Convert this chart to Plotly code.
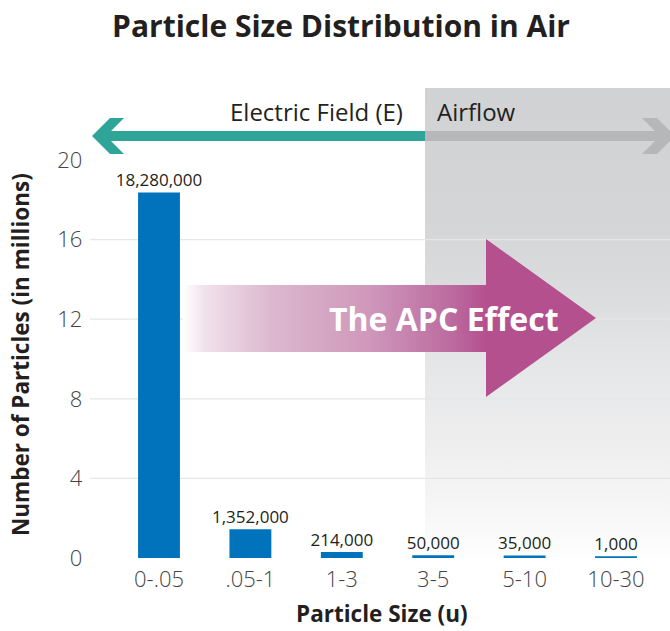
import plotly.graph_objects as go

# ---------------- data ----------------
categories = ["0-.05", ".05-1", "1-3", "3-5", "5-10", "10-30"]
particle_counts = [18280000, 1352000, 214000, 50000, 35000, 1000]
y_ticks = [0, 4, 8, 12, 16, 20]
grid_ticks = [4, 8, 12, 16]

title_text = "Particle Size Distribution in Air"
y_title = "Number of Particles (in millions)"
x_title = "Particle Size (u)"

# ---------------- geometry (pixels) ----------------
W, H = 670, 631
Y0_PX, YTOP_PX = 558, 160          # pixel rows of y=0 and y=20
X_LEFT, X_RIGHT = 113.3, 661.7     # bar plot area
Y_MAX = 20
UNIT = (Y0_PX - YTOP_PX) / Y_MAX


def vy(p):
    """pixel row -> value units of the decoration layer (aligned with bar axis)"""
    return (Y0_PX - p) / UNIT


def poly(pts):
    xs = [p[0] for p in pts] + [pts[0][0]]
    ys = [vy(p[1]) for p in pts] + [vy(pts[0][1])]
    return xs, ys


FONT = "Open Sans"
DARK = "#231f20"
GRAY_TXT = "#434446"
BAR_BLUE = "#0173bc"
TEAL = "#2fa59a"
ARROW_GRAY = "#b6b7b9"
MAGENTA = "#b5508f"

millions = [c / 1e6 for c in particle_counts]
labels = [f"{c:,}" for c in particle_counts]

fig = go.Figure()

# gray airflow region (vertical gradient)
gx, gy = poly([(425, 88), (670, 88), (670, 562), (425, 562)])
fig.add_trace(go.Scatter(
    x=gx, y=gy, mode="lines", line=dict(width=0), fill="toself",
    fillgradient=dict(type="vertical", start=vy(562), stop=vy(88),
                      colorscale=[[0, "#ffffff"], [0.1, "#f7f7f7"], [0.25, "#eeeeef"],
                                  [0.4, "#e6e7e8"], [0.55, "#dcdddf"], [0.72, "#d4d5d7"],
                                  [1, "#d1d2d4"]]),
    hoverinfo="skip", showlegend=False, xaxis="x", yaxis="y"))

# gridlines
gl_x, gl_y = [], []
for t in grid_ticks:
    gl_x += [90, 670, None]
    gl_y += [t, t, None]
fig.add_trace(go.Scatter(x=gl_x, y=gl_y, mode="lines",
                         line=dict(color="#e6e6e7", width=1.3),
                         hoverinfo="skip", showlegend=False, xaxis="x", yaxis="y"))

# teal arrow (electric field, pointing left)
tx, ty = poly([(92, 136), (110, 118), (124, 118), (111, 131), (425, 131),
               (425, 141), (111, 141), (124, 154), (110, 154)])
fig.add_trace(go.Scatter(x=tx, y=ty, mode="lines", line=dict(width=0), fill="toself",
                         fillcolor=TEAL, hoverinfo="skip", showlegend=False,
                         xaxis="x", yaxis="y"))

# gray arrow (airflow, pointing right)
ax_, ay_ = poly([(425, 131), (655, 131), (642, 118), (657, 118), (675, 136),
                 (657, 154), (642, 154), (655, 141), (425, 141)])
fig.add_trace(go.Scatter(x=ax_, y=ay_, mode="lines", line=dict(width=0), fill="toself",
                         fillcolor=ARROW_GRAY, hoverinfo="skip", showlegend=False,
                         xaxis="x", yaxis="y"))

# magenta APC arrow (horizontal gradient)
mx, my = poly([(183, 285), (486, 285), (486, 239), (596, 318), (486, 397),
               (486, 352), (183, 352)])
fig.add_trace(go.Scatter(
    x=mx, y=my, mode="lines", line=dict(width=0), fill="toself",
    fillgradient=dict(type="horizontal", start=183, stop=486,
                      colorscale=[[0, "#ffffff"], [0.07, "#f1e2eb"], [0.29, "#dcb8cf"],
                                  [0.62, "#cf97ba"], [0.89, "#bb6a9f"], [1, MAGENTA]]),
    hoverinfo="skip", showlegend=False, xaxis="x", yaxis="y"))

# bars
fig.add_trace(go.Bar(
    x=categories, y=millions, xaxis="x2", yaxis="y2",
    marker=dict(color=BAR_BLUE, line=dict(color=BAR_BLUE, width=3.5)),
    text=labels, textposition="outside", cliponaxis=False, constraintext="none",
    textfont=dict(family=FONT, size=17, color=DARK),
    hoverinfo="skip", showlegend=False))

annotations = [
    dict(text="Electric Field (E)", x=316, y=vy(111), xref="x", yref="y",
         showarrow=False, font=dict(family=FONT, size=24, color=DARK)),
    dict(text="Airflow", x=435, y=vy(111), xref="x", yref="y", xanchor="left",
         showarrow=False, font=dict(family=FONT, size=24, color=DARK)),
    dict(text="<b>The APC Effect</b>", x=561, y=vy(318), xref="x", yref="y",
         xanchor="right", showarrow=False,
         font=dict(family=FONT, size=32, color="#ffffff")),
    dict(text="<b>" + y_title + "</b>", x=20 / W, y=1 - 355 / H, xref="paper", yref="paper",
         xanchor="center", yanchor="middle",
         textangle=-90, showarrow=False, font=dict(family=FONT, size=22.5, color=DARK)),
    dict(text="<b>" + x_title + "</b>", x=382 / W, y=1 - 613 / H, xref="paper", yref="paper",
         xanchor="center", yanchor="middle",
         showarrow=False, font=dict(family=FONT, size=22.5, color=DARK)),
]

fig.update_layout(
    width=W, height=H,
    margin=dict(l=0, r=0, t=0, b=0, autoexpand=False),
    paper_bgcolor="#ffffff", plot_bgcolor="rgba(0,0,0,0)",
    title=dict(text="<b>" + title_text + "</b>", x=0.509, xanchor="center",
               y=1 - 26 / H, yanchor="middle", yref="container",
               font=dict(family=FONT, size=30, color=DARK)),
    xaxis=dict(domain=[0, 1], range=[0, W], visible=False, fixedrange=True),
    yaxis=dict(domain=[0, 1], range=[vy(H), vy(0)], visible=False, fixedrange=True),
    xaxis2=dict(domain=[X_LEFT / W, X_RIGHT / W], anchor="y2", type="category",
                showgrid=False, showline=False, zeroline=False, ticks="",
                tickfont=dict(family=FONT, size=22, color=GRAY_TXT, weight=300),
                ticklabelstandoff=6),
    yaxis2=dict(domain=[(H - Y0_PX) / H, (H - YTOP_PX) / H], anchor="x2",
                range=[0, Y_MAX], tickvals=y_ticks, showgrid=False, zeroline=False,
                showline=False, ticks="",
                tickfont=dict(family=FONT, size=22, color=GRAY_TXT, weight=300),
                ticklabelstandoff=30),
    bargap=0.58,
    annotations=annotations,
)

fig.write_html("out.html", post_script="document.body.style.margin='0';",
               config={"displayModeBar": False})
